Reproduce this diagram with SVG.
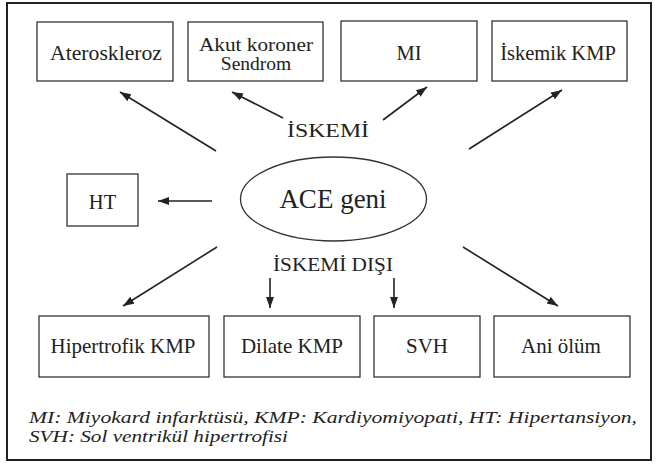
<svg xmlns="http://www.w3.org/2000/svg" width="658" height="469" viewBox="0 0 658 469">
<style>
.box{fill:#fff;stroke:#333;stroke-width:1.3}
.t{font-family:"Liberation Serif","Times New Roman",serif;fill:#222;text-anchor:middle}
.n{font-size:20.5px}
.b{font-size:21px}
.c{stroke:#222;stroke-width:1.6;fill:none;marker-end:url(#ah)}
.f{font-family:"Liberation Serif","Times New Roman",serif;font-style:italic;font-size:16.5px;fill:#222}
</style>
<defs>
<marker id="ah" markerUnits="userSpaceOnUse" markerWidth="12" markerHeight="9" refX="11" refY="4" orient="auto">
<path d="M0,0 L11,4 L0,8 z" fill="#222"/>
</marker>
</defs>
<rect x="0" y="0" width="658" height="469" fill="#fff"/>
<rect x="7" y="3" width="644" height="457" fill="none" stroke="#222" stroke-width="2"/>
<g id="connectors">
<line class="c" x1="216" y1="151" x2="120" y2="92"/>
<line class="c" x1="283" y1="118" x2="232" y2="92"/>
<line class="c" x1="383" y1="120" x2="427" y2="87"/>
<line class="c" x1="469" y1="149" x2="562" y2="90"/>
<line class="c" x1="212" y1="201" x2="158" y2="201"/>
<line class="c" x1="217" y1="247" x2="123" y2="306"/>
<line class="c" x1="270" y1="278" x2="270" y2="308"/>
<line class="c" x1="394" y1="278" x2="394" y2="308"/>
<line class="c" x1="463" y1="247" x2="558" y2="306"/>
</g>
<g id="ateroskleroz"><rect class="box" x="37" y="22" width="136" height="59"/><text class="t n" x="106" y="60" textLength="112" lengthAdjust="spacingAndGlyphs">Ateroskleroz</text></g>
<g id="akut"><rect class="box" x="188" y="22" width="135" height="59"/><text class="t" font-size="19.5" x="256" y="51" textLength="114" lengthAdjust="spacingAndGlyphs">Akut koroner</text><text class="t" font-size="19.5" x="256" y="70">Sendrom</text></g>
<g id="mi"><rect class="box" x="341" y="21" width="136" height="60"/><text class="t n" x="409" y="60">MI</text></g>
<g id="iskemik"><rect class="box" x="492" y="21" width="135" height="60"/><text class="t n" x="558" y="60">İskemik KMP</text></g>
<g id="ht"><rect class="box" x="67" y="174" width="71" height="52"/><text class="t n" x="102.5" y="209">HT</text></g>
<g id="ace"><ellipse cx="333.5" cy="199" rx="93" ry="42" fill="#fff" stroke="#333" stroke-width="1.3"/><text class="t" x="333" y="208" font-size="27">ACE geni</text></g>
<g id="lbl-iskemi"><text class="t" x="328" y="137" font-size="18.5" textLength="82" lengthAdjust="spacingAndGlyphs">İSKEMİ</text></g>
<g id="lbl-iskemi-disi"><text class="t" x="333" y="271" font-size="18.5" textLength="120" lengthAdjust="spacingAndGlyphs">İSKEMİ DIŞI</text></g>
<g id="hipertrofik"><rect class="box" x="39" y="316" width="170" height="61"/><text class="t b" x="123" y="353" textLength="145" lengthAdjust="spacingAndGlyphs">Hipertrofik KMP</text></g>
<g id="dilate"><rect class="box" x="224" y="316" width="136" height="61"/><text class="t b" x="292" y="353">Dilate KMP</text></g>
<g id="svh"><rect class="box" x="374" y="316" width="106" height="61"/><text class="t b" x="427" y="353">SVH</text></g>
<g id="ani"><rect class="box" x="494" y="316" width="136" height="61"/><text class="t b" x="561" y="353">Ani ölüm</text></g>
<g id="footer">
<text class="f" x="29" y="423" textLength="608" lengthAdjust="spacingAndGlyphs">MI: Miyokard infarktüsü, KMP: Kardiyomiyopati, HT: Hipertansiyon,</text>
<text class="f" x="29" y="442" textLength="259" lengthAdjust="spacingAndGlyphs">SVH: Sol ventrikül hipertrofisi</text>
</g>
</svg>
